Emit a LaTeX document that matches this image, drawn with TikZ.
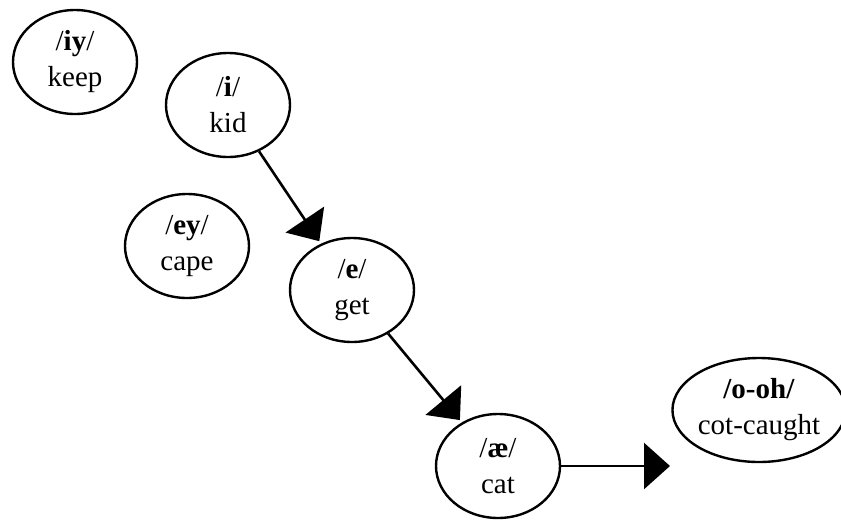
\documentclass[tikz,border=0pt]{standalone}
\usepackage{fontspec}
\setmainfont{Liberation Serif}
\usetikzlibrary{arrows.meta,shapes.geometric}
\begin{document}
\begin{tikzpicture}[x=1pt,y=-1pt,
  vowel/.style={draw, ellipse, line width=2.4pt, inner sep=0pt, minimum width=124pt, minimum height=104pt, align=center, font=\fontsize{29}{36}\selectfont},
  conn/.style={line width=2.6pt, -{Triangle[width=46pt,length=26pt]}, shorten >=3pt}]
\useasboundingbox (0,0) rectangle (841,520);
\node[vowel] (iy) at (75,62) {/\textbf{iy}/\\keep};
\node[vowel] (i) at (228,105) {/\textbf{i}/\\kid};
\node[vowel] (ey) at (187,246) {/\textbf{ey}/\\cape};
\node[vowel] (e) at (352,290) {/\textbf{e}/\\get};
\node[vowel] (ae) at (498,466) {/\textbf{æ}/\\cat};
\node[vowel, minimum width=164pt] (ooh) at (759,410) {\textbf{/o-oh/}\\cot-caught};
\coordinate (end) at (670,466);
\draw[conn] (i) -- (e);
\draw[conn] (e) -- (ae);
\draw[conn, shorten >=0pt] (ae.east) -- (end);
\end{tikzpicture}
\end{document}
